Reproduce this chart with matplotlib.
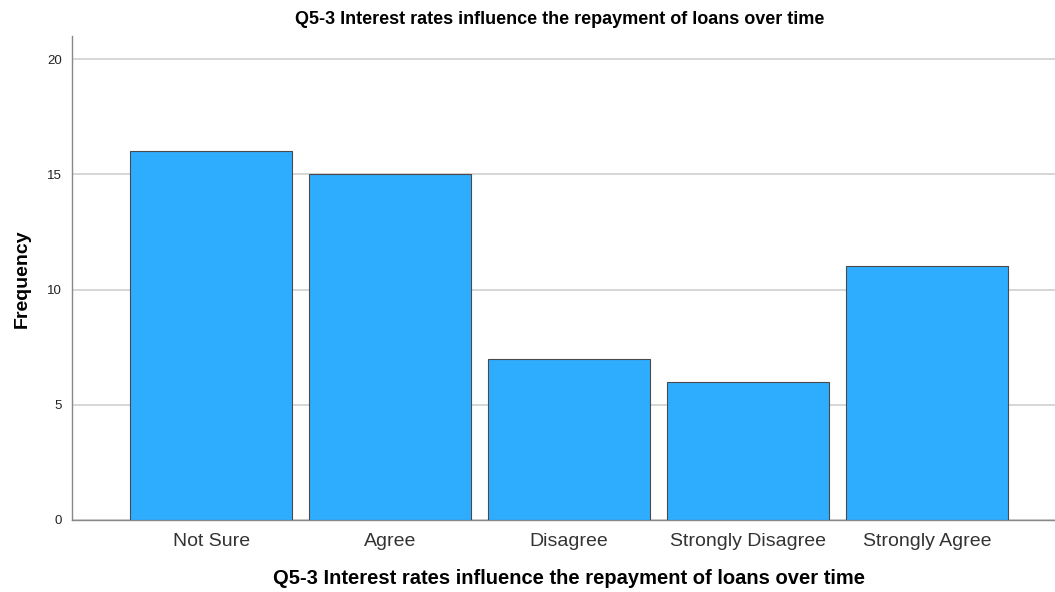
import matplotlib
matplotlib.use("Agg")
import matplotlib.pyplot as plt

categories = ["Not Sure", "Agree", "Disagree", "Strongly Disagree", "Strongly Agree"]
frequencies = [16, 15, 7, 6, 11]
yticks = [0, 5, 10, 15, 20]
title = "Q5-3 Interest rates influence the repayment of loans over time"

plt.rcParams['font.family'] = ['Liberation Sans', 'DejaVu Sans']

fig = plt.figure(figsize=(10.55, 5.92), dpi=100)
ax = fig.add_axes([72/1055, 1-520/592, (1055-72)/1055, (520-36)/592])

x = range(len(categories))
ax.bar(x, frequencies, width=0.905, color="#2EADFE", edgecolor="#4a4a4a", linewidth=0.8, zorder=3)

ax.set_xlim(-0.777, 4.715)
ax.set_ylim(0, 21.0)
ax.set_yticks(yticks)
ax.set_xticks(list(x))
ax.set_xticklabels(categories, fontsize=14, color="#333333")
ax.tick_params(axis='y', length=0, labelsize=9.5, pad=7, colors="#222222")
ax.tick_params(axis='x', length=0, pad=9)
ax.yaxis.grid(True, color="#cfcfcf", linewidth=1.2, zorder=0)
ax.set_axisbelow(True)

for s in ["top", "right"]:
    ax.spines[s].set_visible(False)
for s in ["left", "bottom"]:
    ax.spines[s].set_color("#888888")
    ax.spines[s].set_linewidth(1.0)

fig.text(22/1055, 1-279/592, "Frequency", rotation=90, ha="center", va="center", fontsize=14, fontweight="bold")
fig.text(569/1055, 1-578/592, title, ha="center", va="center", fontsize=14.5, fontweight="bold")
fig.text(560/1055, 1-20/592, title, ha="center", va="center", fontsize=13, fontweight="bold")

fig.savefig("out.png", dpi=100)
